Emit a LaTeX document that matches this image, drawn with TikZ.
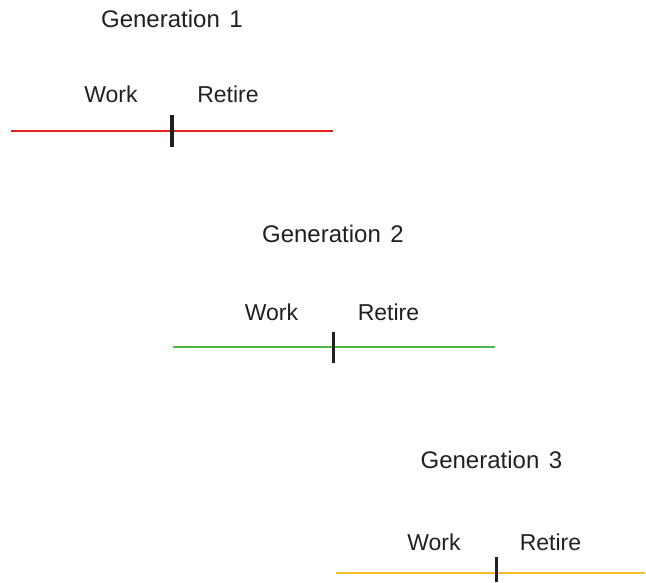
\documentclass[tikz,border=0pt]{standalone}
\usepackage{fontspec}
\setmainfont{Liberation Sans}
\definecolor{gred}{HTML}{E2231A}
\definecolor{ggreen}{HTML}{4DB848}
\definecolor{gyellow}{HTML}{F7BE25}
\definecolor{gtext}{HTML}{231F20}
\tikzset{
  lbl/.style={anchor=base, inner sep=0pt, text=gtext, font=\fontsize{23}{27}\selectfont},
  gen/.style={lbl, font=\fontsize{24}{28}\selectfont},
  life/.style={line width=2pt},
  tick/.style={line width=3.5pt, draw=gtext}
}
\begin{document}
\begin{tikzpicture}[x=1pt,y=-1pt]
\useasboundingbox (0,0) rectangle (646,582);
% Generation 1
\node[gen] (g1) at (172,27) {Generation\kern3pt\ 1};
\node[lbl] (w1) at (111,102) {Work};
\node[lbl] (r1) at (228,102) {Retire};
\coordinate (a1) at (11,130.7);
\coordinate (b1) at (333,130.7);
\coordinate (t1a) at (172,115);
\coordinate (t1b) at (172,147);
\draw[life, gred] (a1) -- (b1);
\draw[tick] (t1a) -- (t1b);
% Generation 2
\node[gen] (g2) at (333,242.7) {Generation\kern3pt\ 2};
\node[lbl] (w2) at (271.5,320.7) {Work};
\node[lbl] (r2) at (388.5,320.7) {Retire};
\coordinate (a2) at (172.7,347);
\coordinate (b2) at (495,347);
\coordinate (t2a) at (333.7,331.7);
\coordinate (t2b) at (333.7,363);
\draw[life, ggreen] (a2) -- (b2);
\draw[tick] (t2a) -- (t2b);
% Generation 3
\node[gen] (g3) at (491.5,468) {Generation\kern3pt\ 3};
\node[lbl] (w3) at (434,550) {Work};
\node[lbl] (r3) at (550.5,550) {Retire};
\coordinate (a3) at (336,572.7);
\coordinate (b3) at (645,572.7);
\coordinate (t3a) at (496.7,556.7);
\coordinate (t3b) at (496.7,582);
\draw[life, gyellow] (a3) -- (b3);
\draw[tick] (t3a) -- (t3b);
\end{tikzpicture}
\end{document}
